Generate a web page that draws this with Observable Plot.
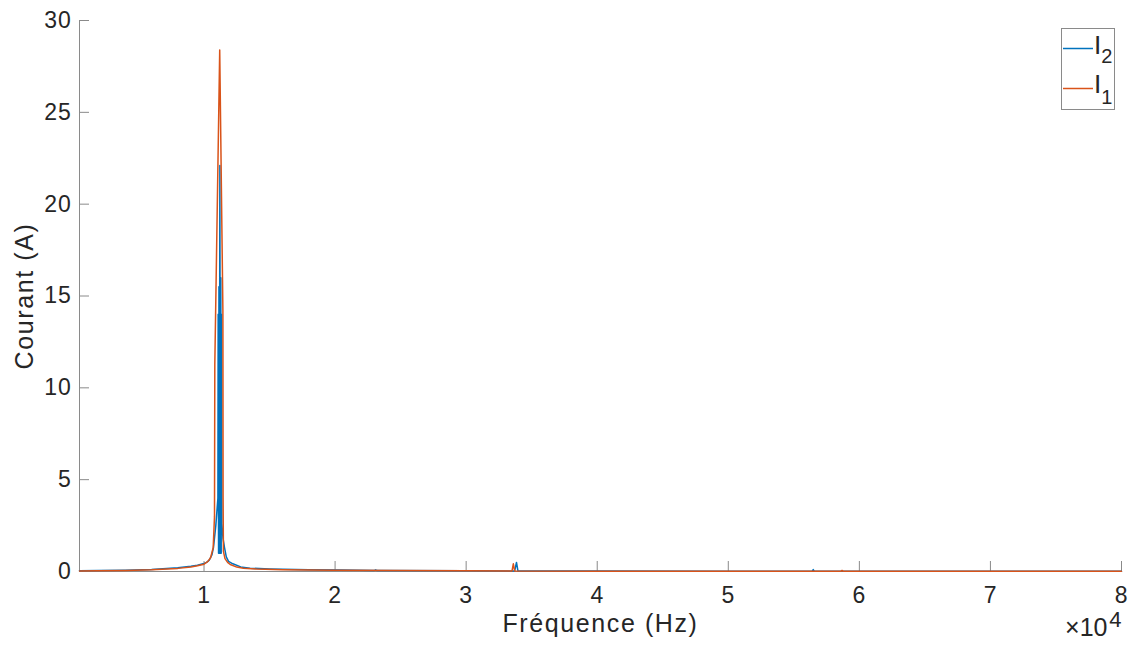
<!DOCTYPE html>
<html>
<head>
<meta charset="utf-8">
<script src="https://cdn.jsdelivr.net/npm/d3@7"></script>
<script src="https://cdn.jsdelivr.net/npm/@observablehq/plot@0.6"></script>
<style>
  html, body { margin: 0; padding: 0; background: white; }
  #wrap { position: relative; width: 1142px; height: 648px; font-family: "Liberation Sans", Arial, sans-serif; }
  #legend { position: absolute; left: 1061px; top: 28px; }
  .lbl { letter-spacing: 1.6px; }
  .tk text { letter-spacing: 0.8px; }
</style>
</head>
<body>
<div id="wrap"></div>
<script>
// ---- data ----
const xTicks = [10000, 20000, 30000, 40000, 50000, 60000, 70000, 80000];
const yTicks = [0, 5, 10, 15, 20, 25, 30];
const xDomain = [500, 80000];
const yDomain = [0, 30];

// I2 (blue)
const freqI2 = [500, 2000, 4000, 6000, 8000, 9000, 9500, 10000, 10200, 10400, 10600, 10720, 10900, 11060, 11080, 11110, 11140, 11170, 11210, 11250, 11280, 11310, 11335, 11360, 11450, 11564, 11700, 11870, 12200, 12800, 13500, 15000, 18000, 20500, 23000, 23100, 23200, 30000, 33700, 33840, 33950, 40000, 50000, 56400, 56480, 56560, 65000, 80000];
const ampI2  = [0.04, 0.05, 0.07, 0.11, 0.2, 0.28, 0.34, 0.44, 0.5, 0.62, 0.9, 1.3, 2.5, 4, 14, 1, 15.5, 1, 22.1, 1, 16, 1, 14, 2.6, 1.8, 1.3, 0.8, 0.55, 0.42, 0.25, 0.18, 0.14, 0.1, 0.08, 0.06, 0.09, 0.05, 0.04, 0.03, 0.49, 0.03, 0.03, 0.02, 0.02, 0.1, 0.02, 0.02, 0.01];

// I1 (orange)
const freqI1 = [500, 2000, 4000, 6000, 8000, 9000, 9500, 10000, 10300, 10500, 10700, 10800, 10824, 11198, 11440, 11455, 11480, 11600, 11800, 12000, 12500, 13000, 14000, 16000, 20000, 25000, 30000, 33500, 33600, 33700, 40000, 50000, 58600, 58680, 58760, 70000, 80000];
const ampI1  = [0.03, 0.04, 0.06, 0.09, 0.17, 0.25, 0.31, 0.4, 0.55, 0.75, 1.3, 3, 11.3, 28.4, 14.2, 4, 1.1, 0.7, 0.5, 0.38, 0.24, 0.18, 0.13, 0.1, 0.07, 0.05, 0.04, 0.03, 0.42, 0.03, 0.02, 0.02, 0.02, 0.06, 0.02, 0.01, 0.01];

const seriesI2 = freqI2.map((f, i) => ({f, a: ampI2[i]}));
const seriesI1 = freqI1.map((f, i) => ({f, a: ampI1[i]}));

const gray = "#8a8a8a";
const textColor = "#262626";

const chart = Plot.plot({
  width: 1142,
  height: 648,
  marginLeft: 79,
  marginRight: 21,
  marginTop: 20,
  marginBottom: 77,
  style: {fontFamily: "'Liberation Sans', Arial, sans-serif", fontSize: "23px", color: textColor, background: "white", overflow: "visible"},
  x: {domain: xDomain, axis: null},
  y: {domain: yDomain, axis: null},
  marks: [
    Plot.axisX({ticks: xTicks, tickSize: 0, tickPadding: 15, tickFormat: d => String(d / 1e4), label: null, fontSize: 23, className: "tk"}),
    Plot.axisX({ticks: xTicks, tickSize: -10, tickFormat: () => "", label: null, stroke: gray}),
    Plot.axisY({ticks: yTicks, tickSize: 0, tickPadding: 8, label: null, fontSize: 23, className: "tk"}),
    Plot.axisY({ticks: yTicks, tickSize: -10, tickFormat: () => "", label: null, stroke: gray}),
    Plot.ruleY([yDomain[0]], {stroke: gray, strokeWidth: 1}),
    Plot.ruleX([xDomain[0]], {stroke: gray, strokeWidth: 1}),
    Plot.line(seriesI2, {x: "f", y: "a", stroke: "#0072BD", strokeWidth: 1.5}),
    Plot.line(seriesI1, {x: "f", y: "a", stroke: "#D95319", strokeWidth: 1.5}),
    Plot.text(["Fréquence (Hz)"], {frameAnchor: "bottom", textAnchor: "middle", dy: 60, fontSize: 25, fill: textColor, className: "lbl"}),
    Plot.text(["Courant (A)"], {frameAnchor: "left", textAnchor: "middle", dx: -55, rotate: -90, fontSize: 25, fill: textColor, className: "lbl"}),
    Plot.text(["×10"], {frameAnchor: "bottom-right", textAnchor: "end", dx: -14, dy: 64, fontSize: 25, fill: textColor}),
    Plot.text(["4"], {frameAnchor: "bottom-right", textAnchor: "end", dx: 0, dy: 55, fontSize: 22, fill: textColor})
  ]
});

const wrap = document.getElementById("wrap");
wrap.appendChild(chart);

// legend
const ns = "http://www.w3.org/2000/svg";
const legend = document.createElementNS(ns, "svg");
legend.setAttribute("id", "legend");
legend.setAttribute("width", "55");
legend.setAttribute("height", "83");
legend.innerHTML = `
  <rect x="0.5" y="0.5" width="53" height="81" fill="white" stroke="${gray}" stroke-width="1"/>
  <line x1="2" x2="32" y1="20.5" y2="20.5" stroke="#0072BD" stroke-width="1.5"/>
  <line x1="2" x2="32" y1="60.5" y2="60.5" stroke="#D95319" stroke-width="1.5"/>
  <text x="33" y="25.5" font-family="'Liberation Sans', Arial, sans-serif" font-size="26" fill="${textColor}">I<tspan font-size="20" dy="9.5">2</tspan></text>
  <text x="33" y="65" font-family="'Liberation Sans', Arial, sans-serif" font-size="26" fill="${textColor}">I<tspan font-size="20" dy="10.5">1</tspan></text>
`;
wrap.appendChild(legend);
</script>
</body>
</html>
